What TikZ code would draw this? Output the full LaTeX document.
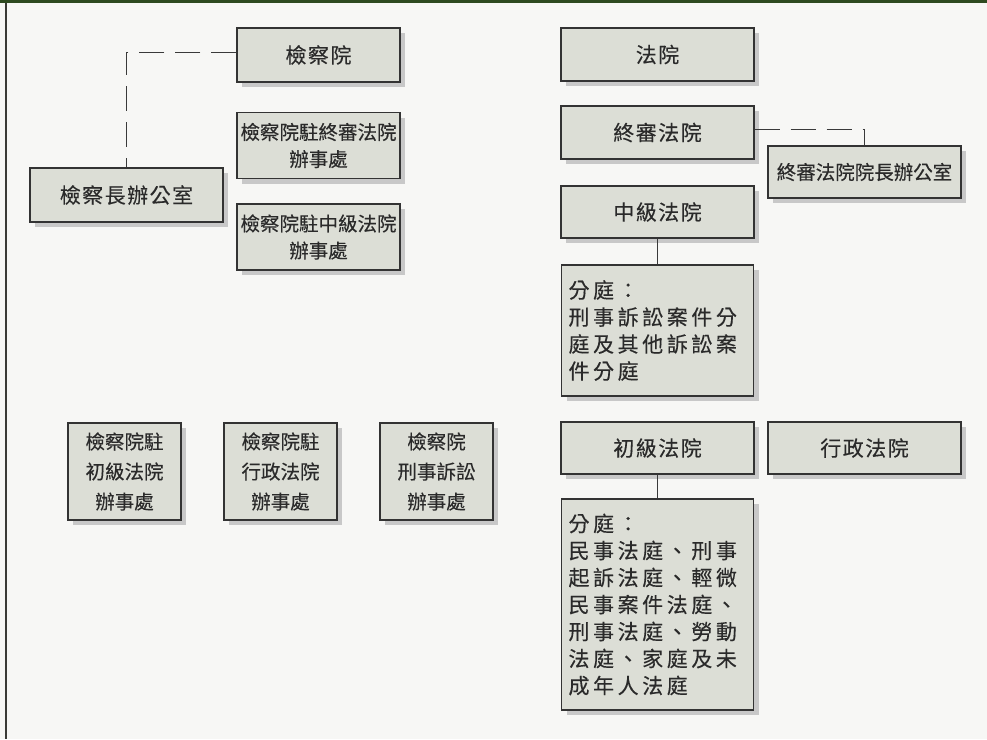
\documentclass[tikz,border=0pt]{standalone}
\usepackage{fontspec}
\usetikzlibrary{shadows}
\newfontfamily\cjk{Noto Sans CJK TC}[FakeBold=0.3]
\newfontfamily\cjks{Noto Sans CJK TC}[LetterSpace=7,FakeBold=0.3]
\newfontfamily\cjkw{Noto Sans CJK TC}[LetterSpace=17,FakeBold=0.3]
\definecolor{bgc}{HTML}{F7F7F5}
\definecolor{topgreen}{HTML}{2E4A20}
\definecolor{leftc}{HTML}{3A3A36}
\definecolor{boxfill}{HTML}{DCDED6}
\definecolor{boxline}{HTML}{333333}
\definecolor{shadowc}{HTML}{C8C8C8}
\definecolor{txt}{HTML}{2A2A2A}
\definecolor{linec}{HTML}{3A3A3A}
\tikzset{
  box/.style={draw=boxline, fill=boxfill, line width=1.1pt, text=txt,
    inner sep=0pt, align=center,
    drop shadow={shadow xshift=5pt, shadow yshift=-5pt, fill=shadowc, opacity=1},
    font=\cjk\fontsize{19.5}{27}\selectfont},
  single/.style={box, font=\cjks\fontsize{21}{27}\selectfont},
  branch/.style={box, align=left, text width=178pt, inner xsep=7pt,
    font=\cjkw\fontsize{21}{27}\selectfont},
  office/.style={box, minimum width=113pt, minimum height=97pt,
    font=\cjk\fontsize{19.5}{30}\selectfont},
  dashlink/.style={draw=linec, line width=1pt, dash pattern=on 25pt off 11pt},
  solidlink/.style={draw=linec, line width=1pt}
}
\begin{document}
\begin{tikzpicture}[x=1pt,y=-1pt]
\useasboundingbox (0,0) rectangle (987,739);
\fill[bgc] (0,0) rectangle (987,739);
\fill[topgreen] (0,0) rectangle (987,3);
\fill[leftc] (5,3) rectangle (7.3,739);

% prosecution side
\node[single, minimum width=163pt, minimum height=54pt] (jcy) at (318.5,55) {檢察院};
\node[box, minimum width=163pt, minimum height=66pt] (zs) at (318.5,145.5) {檢察院駐終審法院\\辦事處};
\node[box, minimum width=163pt, minimum height=66pt] (zj) at (318.5,237) {檢察院駐中級法院\\辦事處};
\node[single, minimum width=193pt, minimum height=54pt] (jcz) at (126.5,195) {檢察長辦公室};
\node[office] (b1) at (124.5,471.5) {檢察院駐\\初級法院\\辦事處};
\node[office] (b2) at (280.5,471.5) {檢察院駐\\行政法院\\辦事處};
\node[office] (b3) at (436.5,471.5) {檢察院\\刑事訴訟\\辦事處};

% courts side
\node[single, minimum width=193pt, minimum height=53pt] (fy) at (657.5,54.5) {法院};
\node[single, minimum width=193pt, minimum height=53pt] (zsfy) at (657.5,132.5) {終審法院};
\node[box, minimum width=193pt, minimum height=52pt] (zsbgs) at (864.5,172) {終審法院院長辦公室};
\node[single, minimum width=193pt, minimum height=52pt] (zjfy) at (657.5,212) {中級法院};
\node[branch, minimum height=131pt] (ft1) at (657.5,330.5) {分庭：\\刑事訴訟案件分\\庭及其他訴訟案\\件分庭};
\node[single, minimum width=193pt, minimum height=52pt] (cjfy) at (657.5,448) {初級法院};
\node[single, minimum width=193pt, minimum height=52pt] (xzfy) at (864.5,448) {行政法院};
\node[branch, minimum height=211pt] (ft2) at (657.5,604.5) {分庭：\\民事法庭、刑事\\起訴法庭、輕微\\民事案件法庭、\\刑事法庭、勞動\\法庭、家庭及未\\成年人法庭};

% connectors
\draw[dashlink] ([yshift=3pt]jcy.west) -| (jcz.north);
\draw[dashlink] ([yshift=3pt]zsfy.east) -| (zsbgs.north);
\draw[solidlink] (zjfy.south) -- (ft1.north);
\draw[solidlink] (cjfy.south) -- (ft2.north);
\end{tikzpicture}
\end{document}
